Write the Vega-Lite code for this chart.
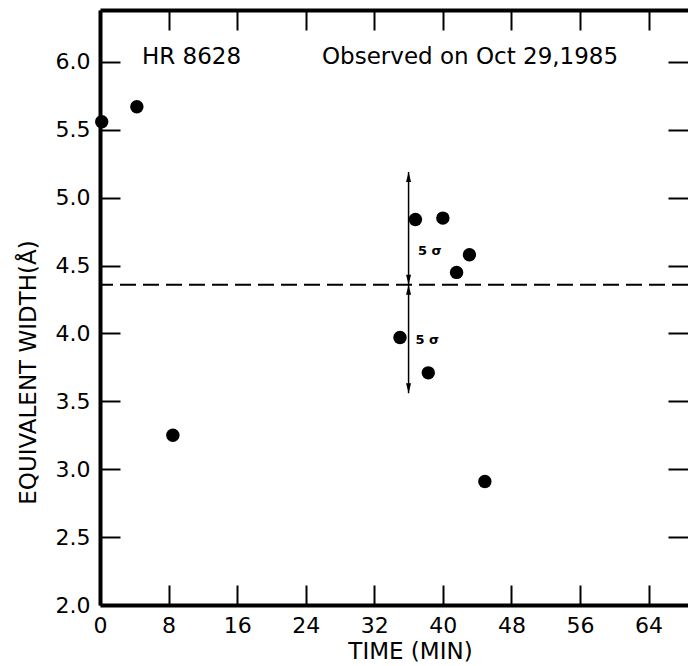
{
  "$schema": "https://vega.github.io/schema/vega-lite/v6.json",
  "width": 588,
  "height": 595,
  "autosize": {"type": "none"},
  "padding": {"left": 100, "top": 10, "right": 0, "bottom": 61},
  "background": "white",
  "config": {
    "view": {"stroke": null},
    "font": "DejaVu Sans",
    "axis": {
      "domainColor": "black",
      "domainWidth": 4,
      "tickColor": "black",
      "tickWidth": 2,
      "tickSize": -20,
      "grid": false,
      "labelFlush": false,
      "labelOverlap": false,
      "labelFont": "DejaVu Sans",
      "labelFontSize": 22,
      "labelColor": "black",
      "titleFont": "DejaVu Sans",
      "titleFontSize": 23,
      "titleFontWeight": "normal",
      "titleColor": "black"
    }
  },
  "datasets": {
    "obs": [
      {"t": 0.2, "w": 5.56},
      {"t": 4.3, "w": 5.67},
      {"t": 8.5, "w": 3.25},
      {"t": 35.0, "w": 3.97},
      {"t": 36.8, "w": 4.84},
      {"t": 38.3, "w": 3.71},
      {"t": 40.0, "w": 4.85},
      {"t": 41.6, "w": 4.45},
      {"t": 43.1, "w": 4.58},
      {"t": 44.9, "w": 2.91}
    ],
    "mean": [
      {"w": 4.36}
    ],
    "bars": [
      {"t": 36.0, "w": 4.36, "w2": 5.19},
      {"t": 36.0, "w": 4.36, "w2": 3.56}
    ],
    "heads": [
      {"t": 36.0, "w": 5.19, "dir": "up"},
      {"t": 36.0, "w": 4.36, "dir": "down"},
      {"t": 36.0, "w": 4.36, "dir": "up"},
      {"t": 36.0, "w": 3.56, "dir": "down"}
    ],
    "sigma": [
      {"t": 37.1, "w": 4.61, "label": "5 σ"},
      {"t": 36.8, "w": 3.95, "label": "5 σ"}
    ],
    "notes": [
      {"t": 4.9, "w": 6.04, "label": "HR 8628"},
      {"t": 25.9, "w": 6.04, "label": "Observed on Oct 29,1985"}
    ]
  },
  "resolve": {"axis": {"x": "independent", "y": "independent"}},
  "layer": [
    {
      "data": {"name": "obs"},
      "mark": {"type": "point", "shape": "circle", "filled": true, "color": "black", "opacity": 1, "size": 180},
      "encoding": {
        "x": {"field": "t", "type": "quantitative",
              "scale": {"domain": [0, 68.6], "nice": false, "zero": false},
              "axis": {"orient": "bottom", "values": [0, 8, 16, 24, 32, 40, 48, 56, 64], "title": "TIME (MIN)", "labelPadding": 30, "titleX": 310, "titleY": 46, "titleBaseline": "middle", "titleAlign": "center",
                       "encode": {"ticks": {"update": {"y2": {"value": -20}}}}}},
        "y": {"field": "w", "type": "quantitative",
              "scale": {"domain": [2, 6.383], "nice": false, "zero": false},
              "axis": {"orient": "left", "values": [2, 2.5, 3, 3.5, 4, 4.5, 5, 5.5, 6], "format": ".1f", "title": "EQUIVALENT WIDTH(Å)", "labelPadding": 30, "titleX": -72, "titleY": 362, "titleAngle": -90, "titleBaseline": "middle", "titleAlign": "center",
                       "encode": {"ticks": {"update": {"x2": {"value": 20}}}}}}
      }
    },
    {
      "data": {"name": "obs"},
      "mark": {"type": "point", "opacity": 0},
      "encoding": {
        "x": {"field": "t", "type": "quantitative",
              "scale": {"domain": [0, 68.6], "nice": false, "zero": false},
              "axis": {"orient": "top", "values": [0, 8, 16, 24, 32, 40, 48, 56, 64], "labels": false, "title": null,
                       "encode": {"ticks": {"update": {"y2": {"value": 22}}}}}},
        "y": {"field": "w", "type": "quantitative",
              "scale": {"domain": [2, 6.383], "nice": false, "zero": false},
              "axis": {"orient": "right", "values": [2, 2.5, 3, 3.5, 4, 4.5, 5, 5.5, 6], "labels": false, "domain": false, "title": null,
                       "encode": {"ticks": {"update": {"x2": {"value": -14}}}}}}
      }
    },
    {
      "data": {"name": "mean"},
      "mark": {"type": "rule", "color": "black", "strokeWidth": 2, "strokeDash": [16, 7]},
      "encoding": {
        "y": {"field": "w", "type": "quantitative", "scale": {"domain": [2, 6.383], "nice": false, "zero": false}, "axis": null}
      }
    },
    {
      "data": {"name": "bars"},
      "mark": {"type": "rule", "color": "black", "strokeWidth": 1.5},
      "encoding": {
        "x": {"field": "t", "type": "quantitative", "scale": {"domain": [0, 68.6], "nice": false, "zero": false}, "axis": null},
        "y": {"field": "w", "type": "quantitative", "scale": {"domain": [2, 6.383], "nice": false, "zero": false}, "axis": null},
        "y2": {"field": "w2"}
      }
    },
    {
      "data": {"name": "heads"},
      "mark": {"type": "point", "filled": true, "color": "black", "opacity": 1, "size": 100, "strokeWidth": 0},
      "encoding": {
        "x": {"field": "t", "type": "quantitative", "scale": {"domain": [0, 68.6], "nice": false, "zero": false}, "axis": null},
        "y": {"field": "w", "type": "quantitative", "scale": {"domain": [2, 6.383], "nice": false, "zero": false}, "axis": null},
        "shape": {"field": "dir", "type": "nominal", "legend": null,
                  "scale": {"domain": ["up", "down"], "range": ["M0,0L-0.5,2L0.5,2Z", "M0,0L-0.5,-2L0.5,-2Z"]}}
      }
    },
    {
      "data": {"name": "sigma"},
      "mark": {"type": "text", "align": "left", "baseline": "middle", "fontSize": 13, "fontWeight": "bold", "color": "black", "font": "DejaVu Sans"},
      "encoding": {
        "x": {"field": "t", "type": "quantitative", "scale": {"domain": [0, 68.6], "nice": false, "zero": false}, "axis": null},
        "y": {"field": "w", "type": "quantitative", "scale": {"domain": [2, 6.383], "nice": false, "zero": false}, "axis": null},
        "text": {"field": "label"}
      }
    },
    {
      "data": {"name": "notes"},
      "mark": {"type": "text", "align": "left", "baseline": "middle", "fontSize": 23, "color": "black", "font": "DejaVu Sans"},
      "encoding": {
        "x": {"field": "t", "type": "quantitative", "scale": {"domain": [0, 68.6], "nice": false, "zero": false}, "axis": null},
        "y": {"field": "w", "type": "quantitative", "scale": {"domain": [2, 6.383], "nice": false, "zero": false}, "axis": null},
        "text": {"field": "label"}
      }
    }
  ]
}
